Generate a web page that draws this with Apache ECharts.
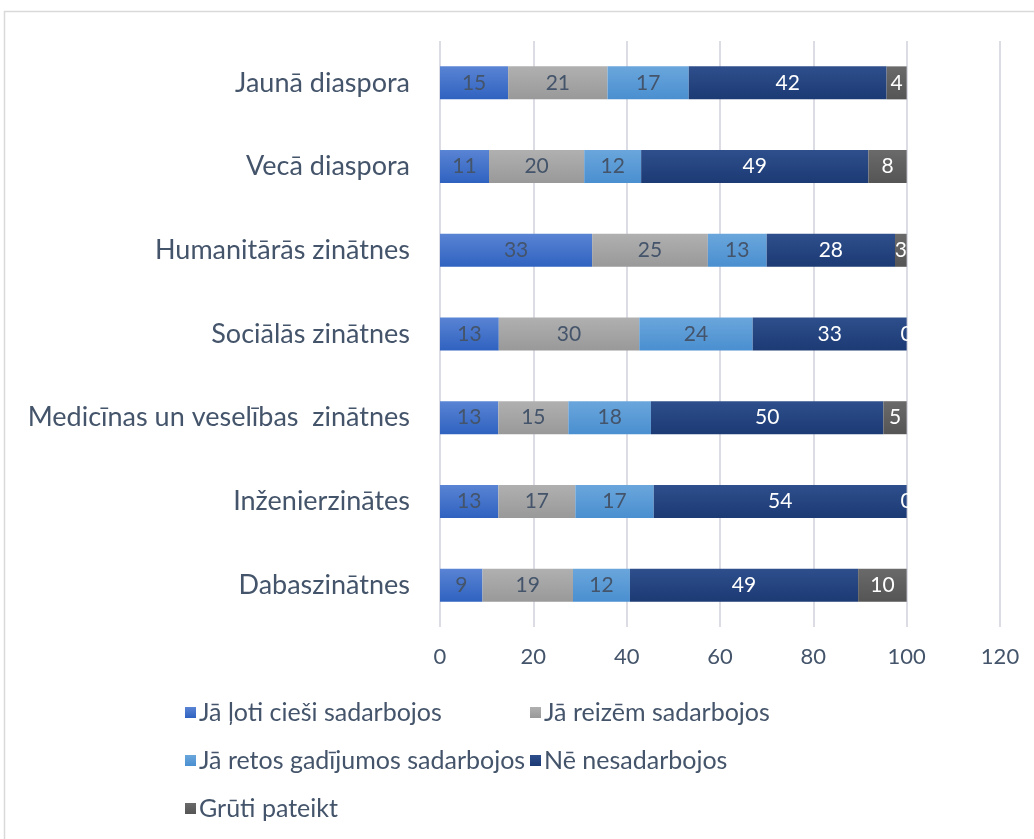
<!DOCTYPE html>
<html>
<head>
<meta charset="utf-8">
<script src="https://cdn.jsdelivr.net/npm/echarts@6/dist/echarts.min.js"></script>
<style>html,body{margin:0;padding:0;background:#fff;}#c{width:1034px;height:839px;}</style>
</head>
<body>
<div id="c"></div>
<script>
const categories = ['Dabaszinātnes', 'Inženierzinātes', 'Medicīnas un veselības  zinātnes', 'Sociālās zinātnes', 'Humanitārās zinātnes', 'Vecā diaspora', 'Jaunā diaspora'];
const seriesNames = ['Jā ļoti cieši sadarbojos', 'Jā reizēm sadarbojos', 'Jā retos gadījumos sadarbojos', 'Nē nesadarbojos', 'Grūti pateikt'];
const veryClose = [9.1, 12.5, 12.5, 12.6, 32.6, 10.5, 14.6];
const sometimes = [19.4, 16.5, 15.0, 30.1, 24.8, 20.4, 21.3];
const rarely = [12.2, 16.8, 17.7, 24.3, 12.6, 12.2, 17.4];
const notAtAll = [48.9, 54.2, 49.8, 33.0, 27.5, 48.7, 42.4];
const hardToSay = [10.4, 0, 5.0, 0, 2.5, 8.2, 4.3];
const xTicks = [0, 20, 40, 60, 80, 100, 120];

const FONT = 'Lato';
const TXT = '#44546a';
function grad(top, bottom) {
  return new echarts.graphic.LinearGradient(0, 0, 0, 1, [{offset: 0, color: top}, {offset: 1, color: bottom}]);
}
const fills = [
  grad('#5a84d4', '#2f62c0'),
  grad('#b0b0b0', '#999999'),
  grad('#6aa6dc', '#4a8fd0'),
  grad('#2e4f8c', '#1c3a74'),
  grad('#6a6a6a', '#555555')
];
const legendColors = ['#3b6cc8', '#a5a5a5', '#5b9bd5', '#23427c', '#5f5f5f'];
const labelColors = [TXT, TXT, TXT, '#ffffff', '#ffffff'];
const allData = [veryClose, sometimes, rarely, notAtAll, hardToSay];

const series = allData.map((d, i) => ({
  name: seriesNames[i],
  type: 'bar',
  stack: 'total',
  data: d,
  barWidth: 33,
  itemStyle: { color: fills[i] },
  label: {
    show: true,
    position: 'inside',
    color: labelColors[i],
    fontFamily: FONT,
    fontSize: 21,
    formatter: p => String(Math.round(p.value))
  },
  emphasis: { disabled: true }
}));

const legendText = { color: TXT, fontFamily: FONT, fontSize: 25, lineHeight: 25, padding: [0, 0, 0, -2] };

const chart = echarts.init(document.getElementById('c'), null, {renderer: 'canvas'});
chart.setOption({
  animation: false,
  backgroundColor: '#ffffff',
  color: legendColors,
  graphic: [{
    type: 'rect',
    shape: { x: 4.5, y: 11.5, width: 1100, height: 900 },
    style: { fill: 'none', stroke: '#d9d9d9', lineWidth: 1.5 },
    silent: true, z: -1
  }],
  grid: { left: 440, right: 34, top: 41, bottom: 212, containLabel: false },
  xAxis: {
    type: 'value', min: 0, max: 120, interval: 20,
    axisLine: { show: false }, axisTick: { show: false },
    splitLine: { show: true, lineStyle: { color: '#dcdde4', width: 2 } },
    axisLabel: { color: TXT, fontFamily: FONT, fontSize: 22, margin: 19,
      formatter: v => xTicks.includes(v) ? String(v) : '' }
  },
  yAxis: {
    type: 'category', data: categories,
    axisLine: { show: false }, axisTick: { show: false },
    axisLabel: { color: TXT, fontFamily: FONT, fontSize: 27, margin: 30 }
  },
  legend: [
    {
      data: [seriesNames[0], seriesNames[2], seriesNames[4]],
      orient: 'vertical', left: 180, top: 695, itemGap: 23,
      itemWidth: 11, itemHeight: 11, icon: 'rect',
      textStyle: legendText,
      selectedMode: false
    },
    {
      data: [seriesNames[1], seriesNames[3]],
      orient: 'vertical', left: 525, top: 695, itemGap: 23,
      itemWidth: 11, itemHeight: 11, icon: 'rect',
      textStyle: legendText,
      selectedMode: false
    }
  ],
  series: series
});
</script>
</body>
</html>
